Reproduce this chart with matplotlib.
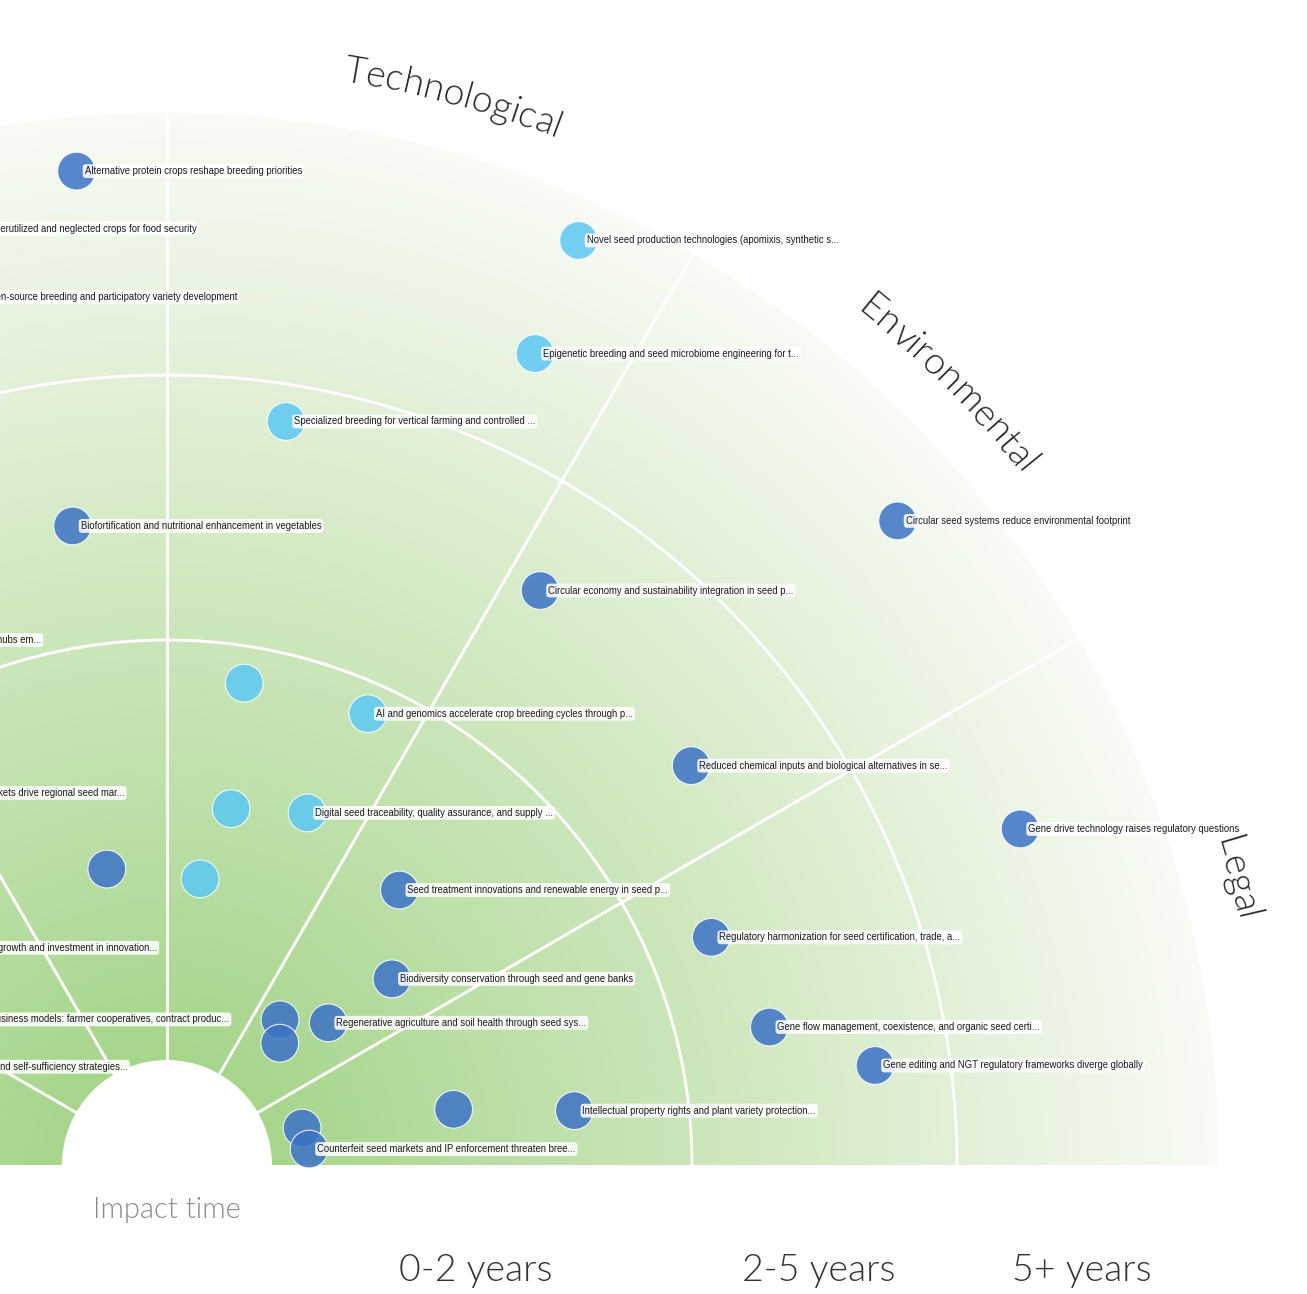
import numpy as np
import matplotlib
matplotlib.use("Agg")
import matplotlib.pyplot as plt
from matplotlib.patches import Wedge
from matplotlib.font_manager import FontProperties
from matplotlib.textpath import text_to_path

# ---------------- data ----------------
sectors = ["Legal", "Environmental", "Technological", "Economic", "Social", "Political"]
sector_edges_deg = [0, 30, 60, 90, 120, 150, 180]
time_bands = ["0-2 years", "2-5 years", "5+ years"]
band_edges = [105, 525, 790, 1052]   # radial scale of the chart

labels = [
    "Alternative protein crops reshape breeding priorities",
    "Underutilized and neglected crops for food security",
    "Open-source breeding and participatory variety development",
    "Specialized breeding for vertical farming and controlled ...",
    "Biofortification and nutritional enhancement in vegetables",
    "Regional seed innovation clusters and startup hubs em...",
    "",
    "AI and genomics accelerate crop breeding cycles through p...",
    "Asia-Pacific and Africa's markets drive regional seed mar...",
    "",
    "Digital seed traceability, quality assurance, and supply ...",
    "",
    "",
    "Seed treatment innovations and renewable energy in seed p...",
    "Sustained seed market growth and investment in innovation...",
    "New business models: farmer cooperatives, contract produc...",
    "National seed sovereignty and self-sufficiency strategies...",
    "",
    "",
    "Regenerative agriculture and soil health through seed sys...",
    "Biodiversity conservation through seed and gene banks",
    "",
    "Counterfeit seed markets and IP enforcement threaten bree...",
    "",
    "Intellectual property rights and plant variety protection...",
    "Regulatory harmonization for seed certification, trade, a...",
    "Gene flow management, coexistence, and organic seed certi...",
    "Gene editing and NGT regulatory frameworks diverge globally",
    "Reduced chemical inputs and biological alternatives in se...",
    "Gene drive technology raises regulatory questions",
    "Circular seed systems reduce environmental footprint",
    "Circular economy and sustainability integration in seed p...",
    "Epigenetic breeding and seed microbiome engineering for t...",
    "Novel seed production technologies (apomixis, synthetic s...",
]
radius = [998, 956, 889, 753, 646, 644, 488, 494, 476, 362, 379, 302, 288, 360,
          352, 252, 308, 184, 166, 215, 292, 140, 143, 292, 411, 590, 618, 715,
          659, 917, 974, 685, 891, 1012]
angle_deg = [95.2, 101.6, 102.5, 80.9, 98.4, 125.4, 80.9, 66.0, 128.6, 79.8,
             68.3, 101.5, 83.4, 49.8, 141.9, 144.7, 161.4, 52.1, 47.2, 41.4,
             39.6, 15.3, 6.4, 11.0, 7.6, 22.7, 12.9, 8.0, 37.3, 21.5, 41.4,
             57.0, 65.6, 66.0]
tone = ["dark", "dark", "dark", "light", "dark", "dark", "light", "light", "dark",
        "light", "light", "dark", "light", "dark", "dark", "dark", "dark", "dark",
        "dark", "dark", "dark", "dark", "dark", "dark", "dark", "dark", "dark",
        "dark", "dark", "dark", "dark", "dark", "light", "light"]

# ---------------- style ----------------
tone_colors = {"dark": "#3c72c6", "light": "#5cc8f3"}
W_PX, H_PX = 1307, 1294
CX, CY = 167, 1165          # chart centre in pixel coordinates
R0, R = band_edges[0], band_edges[-1]
LATO = ["Lato", "DejaVu Sans"]

fig = plt.figure(figsize=(W_PX / 100, H_PX / 100), dpi=100)
ax = fig.add_axes([0, 0, 1, 1])
ax.set_xlim(-CX, W_PX - CX)
ax.set_ylim(CY - H_PX, CY)
ax.axis("off")

# radial gradient background clipped to the half disc
n = 700
xs = np.linspace(-R, R, 2 * n)
ys = np.linspace(0, R, n)
XX, YY = np.meshgrid(xs, ys)
rr = np.clip(np.hypot(XX, YY) / R, 0, 1)
c0 = np.array([158, 209, 128]) / 255
c1 = np.array([249, 251, 245]) / 255
img = c0[None, None, :] + (c1 - c0)[None, None, :] * rr[..., None]
im = ax.imshow(img, extent=(-R, R, 0, R), origin="lower", zorder=0,
               interpolation="bilinear")
clip = Wedge((0, 0), R, 0, 180, transform=ax.transData)
im.set_clip_path(clip)

# rings
th = np.linspace(0, np.pi, 400)
for rb in band_edges[1:-1]:
    ax.plot(rb * np.cos(th), rb * np.sin(th), color="white", lw=2.1, zorder=1)
# sector lines
for a in sector_edges_deg[1:-1]:
    t = np.radians(a)
    ax.plot([R0 * np.cos(t), R * np.cos(t)], [R0 * np.sin(t), R * np.sin(t)],
            color="white", lw=2.1, zorder=1)
# inner hole
ax.add_patch(Wedge((0, 0), R0, 0, 180, facecolor="white", edgecolor="none", zorder=2))

# points
t = np.radians(angle_deg)
px = np.array(radius) * np.cos(t)
py = np.array(radius) * np.sin(t)
cols = [tone_colors[k] for k in tone]
ax.scatter(px, py, s=740, c=cols, alpha=0.85, edgecolors="white",
           linewidths=0.8, zorder=3, clip_on=False)

for x, y, lab in zip(px, py, labels):
    if not lab:
        continue
    ax.annotate(lab, (x, y), xytext=(5.8, 0), textcoords="offset points",
                ha="left", va="center", fontsize=6.85, color="#1a1a1a",
                family=["Liberation Sans", "DejaVu Sans"], zorder=4,
                annotation_clip=False,
                bbox=dict(boxstyle="round,pad=0.2,rounding_size=0.35",
                          facecolor="white", edgecolor="none", alpha=0.88))

# sector titles along the arc
fp = FontProperties(family=LATO, weight=300, size=27)
r_text = 1098
def arc_text(s, mid_deg):
    widths = [text_to_path.get_text_width_height_descent(s[:i], fp, ismath=False)[0]
              if i > 0 else 0.0 for i in range(len(s) + 1)]
    widths = np.array(widths) * 100 / 72
    total = widths[-1]
    for i, ch in enumerate(s):
        sc = (widths[i] + widths[i + 1]) / 2
        ang = np.radians(mid_deg) + (total / 2 - sc) / r_text
        ax.text(r_text * np.cos(ang), r_text * np.sin(ang), ch, fontproperties=fp,
                color="#2b2b2b", rotation=np.degrees(ang) - 90, ha="center",
                va="baseline", rotation_mode="anchor", zorder=5)

for name, a0, a1 in zip(sectors, sector_edges_deg[:-1], sector_edges_deg[1:]):
    arc_text(name, (a0 + a1) / 2)

# time axis
ax.text(0, -45, "Impact time", ha="center", va="center", fontsize=21,
        family=LATO, weight=300, color="#8a8a8a")
for lab, a, b in zip(time_bands, band_edges[:-1], band_edges[1:]):
    ax.text((a + b) / 2 - 6, -106, lab, ha="center", va="center", fontsize=27,
            family=LATO, weight=300, color="#333333")

fig.savefig("out.png", dpi=100)
